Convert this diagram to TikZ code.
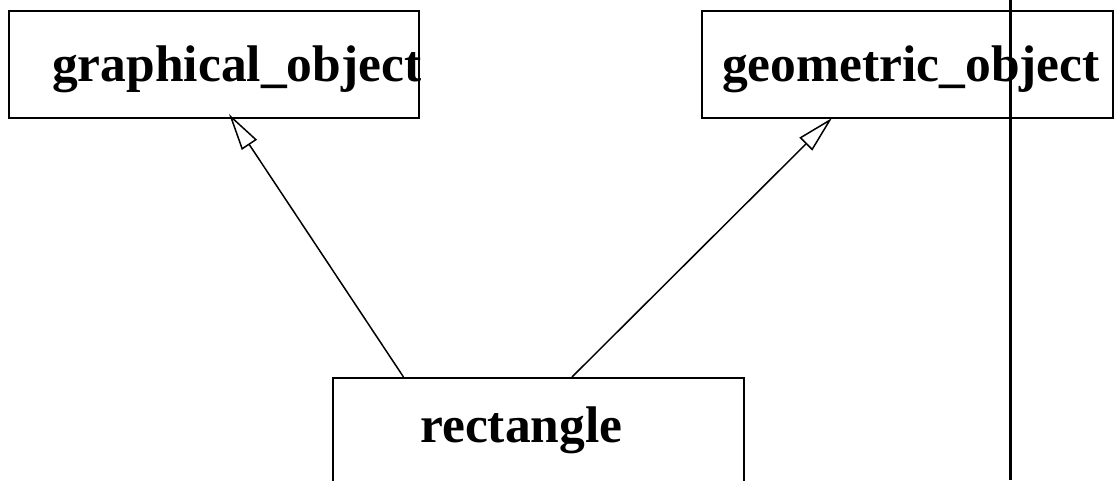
\documentclass[tikz,border=0pt]{standalone}
\usepackage{fontspec}
\setmainfont{Liberation Serif}
\usetikzlibrary{arrows.meta}

\tikzset{
  classbox/.style={draw, line width=2pt, inner sep=0pt},
  classname/.style={anchor=base west, inner sep=0pt, font=\fontsize{51.5}{60}\selectfont\bfseries},
  inherits/.style={line width=1.5pt, -{Triangle[open, length=37pt, width=18pt, line width=1.5pt]}},
}

\begin{document}
\begin{tikzpicture}[x=1pt, y=-1pt]
                        \clip (0,0) rectangle (1114,480);

                        % The boxes
                        \node[classbox, minimum width=410pt, minimum height=107pt] (graphobj) at (214,64.5) {};
                        \node[classbox, minimum width=411pt, minimum height=107pt] (geomobj) at (907.5,64.5) {};
                        \node[classbox, minimum width=411pt, minimum height=140pt] (rect) at (538.5,448) {};

                        % The names
                        \node[classname] (graphobjname) at (52,81) {graphical\_object};
                        \node[classname] (geomobjname) at (722,81) {geometric\_object};
                        \node[classname] (rectname) at (420,442) {rectangle};

                        % Inheritance
                        \draw[inherits] ([xshift=-135pt]rect.north) -- ([xshift=15pt, yshift=5pt]graphobj.south);
                        \draw[inherits] ([xshift=33.5pt]rect.north) -- ([xshift=-75.5pt, yshift=1pt]geomobj.south);

                        % Divider
                        \draw[line width=3pt] (1010,0) -- (1010,480);

                    \end{tikzpicture}
\end{document}
